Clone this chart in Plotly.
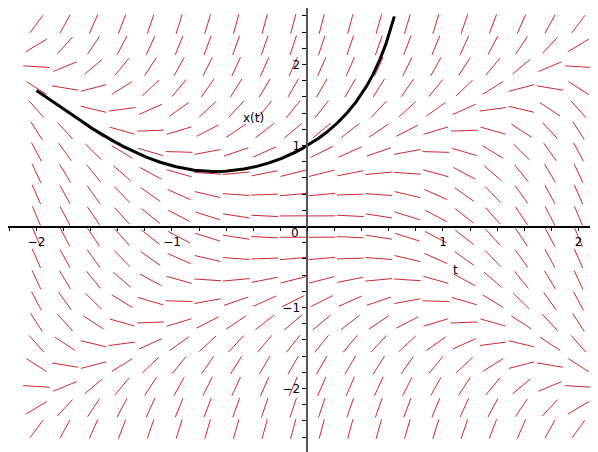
import numpy as np
import plotly.graph_objects as go

# direction field of  x'(t) = x^2 - t^2,  solution through x(0) = 1
t_grid = np.linspace(-2.0, 2.0, 20)
x_grid = np.linspace(-2.5, 2.5, 20)
x0 = 1.0
t_start, t_end = -2.0, 2.0
x_stop = 2.6

t_ticks = [-2, -1, 1, 2]
x_ticks = [-2, -1, 1, 2]

# page has an 8px body margin, ranges chosen so the axes land where they should
t_range = [-2.210, 2.203]
x_range = [-2.882, 2.698]


def slope(t, x):
    return x**2 - t**2


def rk4(t0, y0, t1, n):
    ts, ys = [t0], [y0]
    h = (t1 - t0) / n
    t, y = t0, y0
    for _ in range(n):
        k1 = slope(t, y)
        k2 = slope(t + h/2, y + h*k1/2)
        k3 = slope(t + h/2, y + h*k2/2)
        k4 = slope(t + h, y + h*k3)
        y = y + h*(k1 + 2*k2 + 2*k3 + k4)/6
        t = t + h
        if abs(y) > x_stop:
            break
        ts.append(t)
        ys.append(y)
    return ts, ys


# segments, normalised in grid units
dt_g = t_grid[1] - t_grid[0]
dx_g = x_grid[1] - x_grid[0]
half = 0.47
seg_t, seg_x = [], []
for t in t_grid:
    for x in x_grid:
        u, v = 1.0 / dt_g, slope(t, x) / dx_g
        n = np.hypot(u, v)
        u, v = u / n, v / n
        seg_t += [t - half*u*dt_g, t + half*u*dt_g, None]
        seg_x += [x - half*v*dx_g, x + half*v*dx_g, None]

tb, xb = rk4(0.0, x0, t_start, 2000)
tf, xf = rk4(0.0, x0, t_end, 2000)
curve_t = tb[::-1] + tf[1:]
curve_x = xb[::-1] + xf[1:]

fig = go.Figure()
fig.add_trace(go.Scatter(x=seg_t, y=seg_x, mode='lines',
                         line=dict(color='rgb(205,40,50)', width=1),
                         hoverinfo='skip'))
fig.add_trace(go.Scatter(x=curve_t, y=curve_x, mode='lines',
                         line=dict(color='black', width=3)))

font = dict(family='DejaVu Sans, sans-serif', size=12, color='black')
fig.add_annotation(x=-0.095, y=-0.08, text='0', showarrow=False, font=font)
fig.add_annotation(x=1.09, y=-0.54, text='t', showarrow=False, font=font)
fig.add_annotation(x=-0.40, y=1.34, text='x(t)', showarrow=False, font=font)

x_pos = (0 - x_range[0]) / (x_range[1] - x_range[0])
y_pos = (0 - t_range[0]) / (t_range[1] - t_range[0])

fig.update_layout(
    width=598, height=452,
    margin=dict(l=0, r=0, t=0, b=0),
    plot_bgcolor='white', paper_bgcolor='white',
    showlegend=False,
    font=font,
    xaxis=dict(range=t_range, anchor='free', position=x_pos,
               showgrid=False, zeroline=False, showline=True,
               linecolor='black', linewidth=1.5,
               tickmode='array', tickvals=t_ticks, ticks='outside',
               ticklen=4, tickcolor='black',
               minor=dict(tickmode='linear', tick0=0, dtick=0.2,
                          ticks='outside', ticklen=4, tickcolor='black'),
               automargin=False),
    yaxis=dict(range=x_range, anchor='free', position=y_pos,
               showgrid=False, zeroline=False, showline=True,
               linecolor='rgb(85,85,85)', linewidth=2,
               tickmode='array', tickvals=x_ticks, ticks='outside',
               ticklen=4, tickcolor='black',
               minor=dict(tickmode='linear', tick0=0, dtick=0.2,
                          ticks='outside', ticklen=4, tickcolor='black'),
               automargin=False),
)

fig.write_html("out.html")
